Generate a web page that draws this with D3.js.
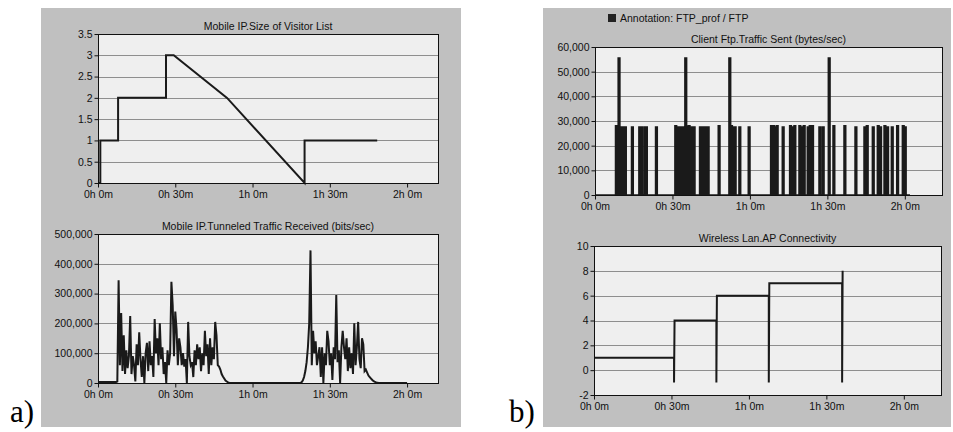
<!DOCTYPE html>
<html><head><meta charset="utf-8">
<script src="https://cdn.jsdelivr.net/npm/d3@7/dist/d3.min.js"></script>
<style>
body{margin:0;background:#fff}
svg{display:block}
text{font-family:"Liberation Sans",Arial,sans-serif}
text.letter{font-family:"Liberation Serif","Times New Roman",serif}
</style></head><body>
<svg id="c" width="953" height="432"></svg>
<script>
// ---------------- DATA ----------------
const timeTicks = [0, 30, 60, 90, 120];
const timeTickLabels = ["0h 0m", "0h 30m", "1h 0m", "1h 30m", "2h 0m"];

const visitorTitle = "Mobile IP.Size of Visitor List";
const visitorTime = [0, 0.9, 0.9, 7.8, 7.8, 26.4, 26.4, 29.4, 50.1, 80.2, 80.2, 108.4];
const visitorSize = [0, 0, 1, 1, 2, 2, 3, 3, 2, 0, 1, 1];
const visitorTicks = [0, 0.5, 1, 1.5, 2, 2.5, 3, 3.5];
const visitorTickLabels = ["0", "0.5", "1", "1.5", "2", "2.5", "3", "3.5"];

const tunnelTitle = "Mobile IP.Tunneled Traffic Received (bits/sec)";
const tunnelTime = [0, 7,
  7.5, 8, 8.5, 9, 9.5, 10, 10.5, 11, 11.5, 12, 12.5, 13, 13.5, 14, 14.5, 15, 15.5, 16, 16.5, 17, 17.5, 18, 18.5, 19, 19.5,
  20, 20.5, 21, 21.5, 22, 22.5, 23, 23.5, 24, 24.5, 25, 25.5, 26, 26.5, 27, 27.5, 28, 28.5, 29, 29.5,
  30, 30.5, 31, 31.5, 32, 32.5, 33, 33.5, 34, 34.5, 35, 35.5, 36, 36.5, 37, 37.5, 38, 38.5, 39, 39.5,
  40, 40.5, 41, 41.5, 42, 42.5, 43, 43.5, 44, 44.5, 45, 45.5, 46, 46.5, 47, 47.5, 48, 48.5, 49, 49.5, 50, 50.5, 51,
  78.5, 79, 79.5, 80, 80.5, 81, 81.5, 82, 82.5, 83, 83.5, 84, 84.5, 85, 85.5, 86, 86.5, 87, 87.5, 88, 88.5, 89, 89.5,
  90, 90.5, 91, 91.5, 92, 92.5, 93, 93.5, 94, 94.5, 95, 95.5, 96, 96.5, 97, 97.5, 98, 98.5, 99, 99.5,
  100, 100.5, 101, 101.5, 102, 102.5, 103, 103.5, 104, 104.5, 105, 105.5, 106, 106.5, 107, 107.5, 108, 109, 120];
const tunnelKbits = [3, 3,
  5, 345, 60, 235, 40, 160, 30, 110, 50, 90, 225, 30, 90, 60, 5, 130, 60, 170, 80, 20, 90, 0, 100, 135, 40,
  140, 60, 90, 20, 215, 100, 150, 60, 200, 80, 120, 30, 70, 0, 110, 60, 100, 340, 260, 90,
  240, 180, 60, 150, 120, 60, 100, 55, 80, 0, 205, 90, 60, 70, 20, 110, 60, 130, 80, 120,
  40, 100, 60, 175, 90, 130, 30, 150, 60, 120, 80, 205, 160, 60, 55, 45, 30, 22, 15, 8, 5, 2, 0,
  0, 2, 8, 20, 40, 70, 120, 200, 445, 60, 175, 100, 140, 60, 90, 120, 20, 120, 0, 100, 60, 175, 140,
  60, 100, 10, 120, 80, 295, 70, 110, 0, 120, 175, 120, 80, 150, 40, 120, 50, 100, 30, 200,
  60, 120, 205, 80, 50, 150, 130, 40, 45, 35, 25, 20, 15, 10, 6, 4, 2, 0, 0];
const tunnelTicks = [0, 100, 200, 300, 400, 500];
const tunnelTickLabels = ["0", "100,000", "200,000", "300,000", "400,000", "500,000"];

const legendLabel = "Annotation: FTP_prof / FTP";
const ftpTitle = "Client Ftp.Traffic Sent (bytes/sec)";
const ftpPulseTime = [8.28, 8.8, 9.31, 9.83, 10.47, 11.12, 11.76, 14.48, 17.33, 17.97, 19.26, 19.9, 23.79,
  31.28, 31.93, 32.57, 33.48, 34.25, 35.15, 35.8, 36.45, 37.35, 38.39, 40.84, 41.62, 42.39, 43.17, 43.82,
  48.07, 52.21, 52.86, 53.64, 54.28, 56.09, 59.7, 68.36, 69.14, 69.91, 70.56, 72.88, 75.72, 76.49, 77.4,
  79.34, 80.12, 81.02, 82.57, 83.35, 84.25, 87.09, 88.38, 90.71, 92.52, 96.78, 101.05, 104.53, 105.44,
  107.77, 109.7, 110.6, 112.29, 113.32, 115.13, 117.2, 119.39, 120.17];
const ftpPulseKbytes = [28, 27.5, 55.5, 27.5, 27.5, 27.5, 27.5, 27.5, 27.5, 27.5, 27.5, 27.5, 27.5,
  28, 27.5, 27.5, 27.5, 27.5, 55.5, 27.5, 28, 27.5, 27.5, 27.5, 27.5, 27.5, 27.5, 27.5,
  28, 55.5, 28, 27.5, 27.5, 27.5, 27.5, 28, 28, 27.5, 28, 27.5, 28, 27.5, 28,
  28, 27.5, 28, 27.5, 28, 28, 27.5, 27.5, 55.5, 28, 28, 27.5, 27.5, 28,
  27.5, 28, 27.5, 28, 27.5, 27.5, 28, 28, 27.5];
const ftpEndTime = 122;
const ftpTicks = [0, 10, 20, 30, 40, 50, 60];
const ftpTickLabels = ["0", "10,000", "20,000", "30,000", "40,000", "50,000", "60,000"];

const apTitle = "Wireless Lan.AP Connectivity";
const apTime = [0, 31, 31, 31.2, 47.4, 47.4, 47.6, 67.7, 67.7, 67.9, 96.1, 96.1, 96.3];
const apConn = [1, 1, -1, 4, 4, -1, 6, 6, -1, 7, 7, -1, 8];
const apTicks = [-2, 0, 2, 4, 6, 8, 10];
const apTickLabels = ["-2", "0", "2", "4", "6", "8", "10"];

// ---------------- DRAW ----------------
const svg = d3.select("#c");
const PANEL = "#c0c0c0", PLOT = "#efefef", GRID = "#8e8e8e", INK = "#1a1a1a";

svg.append("rect").attr("x", 41).attr("y", 8).attr("width", 420).attr("height", 419).attr("fill", PANEL);
svg.append("rect").attr("x", 543).attr("y", 8).attr("width", 408).attr("height", 419).attr("fill", PANEL);

function chart(cfg) {
  const g = svg.append("g");
  const x = d3.scaleLinear().domain([0, cfg.xMax]).range([cfg.x0, cfg.x1]);
  const y = d3.scaleLinear().domain(cfg.yDomain).range([cfg.y1, cfg.y0]);
  g.append("rect").attr("x", cfg.x0).attr("y", cfg.y0)
    .attr("width", cfg.x1 - cfg.x0).attr("height", cfg.y1 - cfg.y0).attr("fill", PLOT);
  g.selectAll(".grid").data(cfg.yTicks.filter(d => d !== cfg.yDomain[0] && d !== cfg.yDomain[1]))
    .join("line").attr("x1", cfg.x0).attr("x2", cfg.x1)
    .attr("y1", d => Math.round(y(d)) + 0.5).attr("y2", d => Math.round(y(d)) + 0.5)
    .attr("stroke", GRID).attr("stroke-width", 1.2);
  g.append("path").attr("d", d3.line().x(d => x(d[0])).y(d => y(d[1]))(cfg.points))
    .attr("fill", "none").attr("stroke", INK).attr("stroke-width", cfg.sw || 1.6)
    .attr("stroke-linejoin", "miter");
  g.append("rect").attr("x", cfg.x0 + 0.5).attr("y", cfg.y0 + 0.5)
    .attr("width", cfg.x1 - cfg.x0).attr("height", cfg.y1 - cfg.y0)
    .attr("fill", "none").attr("stroke", "#111").attr("stroke-width", 1);
  const ya = g.append("g").attr("transform", `translate(${cfg.x0 + 0.5},0)`)
    .call(d3.axisLeft(y).tickValues(cfg.yTicks).tickFormat((d, i) => cfg.yLabels[i]).tickSize(4).tickPadding(2).tickSizeOuter(0));
  const xa = g.append("g").attr("transform", `translate(0,${cfg.y1 + 0.5})`)
    .call(d3.axisBottom(x).tickValues(timeTicks).tickFormat((d, i) => timeTickLabels[i]).tickSize(4).tickPadding(3).tickSizeOuter(0));
  [ya, xa].forEach(a => {
    a.select(".domain").remove();
    a.selectAll("line").attr("stroke", "#111");
    a.selectAll("text").attr("font-size", "10.5px").attr("fill", "#111");
  });
  g.append("text").attr("x", (cfg.x0 + cfg.x1) / 2).attr("y", cfg.y0 - 4)
    .attr("text-anchor", "middle").attr("font-size", "10.5px").attr("fill", "#111").text(cfg.title);
}

chart({x0: 98, x1: 438, y0: 34, y1: 183, xMax: 132, yDomain: [0, 3.5],
  yTicks: visitorTicks, yLabels: visitorTickLabels, title: visitorTitle, sw: 2,
  points: visitorTime.map((t, i) => [t, visitorSize[i]])});

chart({x0: 98, x1: 438, y0: 234, y1: 383, xMax: 132, yDomain: [0, 500],
  yTicks: tunnelTicks, yLabels: tunnelTickLabels, title: tunnelTitle, sw: 2,
  points: tunnelTime.map((t, i) => [t, tunnelKbits[i]])});

// FTP pulses: each recorded burst rises to its value and returns to zero
const ftpPoints = [[0, 0]];
ftpPulseTime.forEach((t, i) => {
  ftpPoints.push([t - 0.3, 0], [t - 0.3, ftpPulseKbytes[i]], [t + 0.3, ftpPulseKbytes[i]], [t + 0.3, 0]);
});
ftpPoints.push([ftpEndTime, 0]);
chart({x0: 595, x1: 942, y0: 47, y1: 195, xMax: 134.4, yDomain: [0, 60],
  yTicks: ftpTicks, yLabels: ftpTickLabels, title: ftpTitle, sw: 1.7, points: ftpPoints});

chart({x0: 594, x1: 941, y0: 246, y1: 395, xMax: 134.4, yDomain: [-2, 10],
  yTicks: apTicks, yLabels: apTickLabels, title: apTitle, sw: 2,
  points: apTime.map((t, i) => [t, apConn[i]])});

// legend
svg.append("rect").attr("x", 608).attr("y", 14).attr("width", 8).attr("height", 8).attr("fill", "#222");
svg.append("text").attr("x", 620).attr("y", 22).attr("font-size", "10.5px").attr("fill", "#111").text(legendLabel);

// panel letters
svg.append("text").attr("class", "letter").attr("x", 10).attr("y", 422)
  .attr("font-size", "31px").attr("fill", "#000").text("a)");
svg.append("text").attr("class", "letter").attr("x", 509).attr("y", 422)
  .attr("font-size", "31px").attr("fill", "#000").text("b)");
</script>
</body></html>
